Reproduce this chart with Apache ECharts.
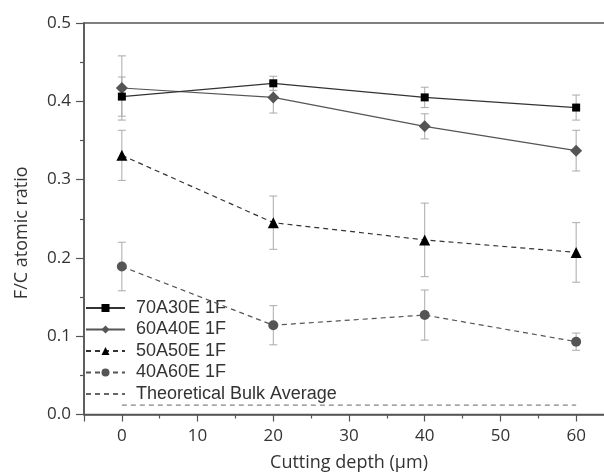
<!DOCTYPE html>
<html>
<head>
<meta charset="utf-8">
<script src="https://cdn.jsdelivr.net/npm/echarts@6/dist/echarts.min.js"></script>
<style>
  html, body { margin: 0; padding: 0; background: #fff; }
  #chart { width: 604px; height: 472px; }
</style>
</head>
<body>
<div id="chart"></div>
<script>
// cutting depth (um)
var depths = [0, 20, 40, 60]
// F/C ratios and error (+/-) for each composition
var s70 = [0.406, 0.423, 0.405, 0.392]
var e70 = [0.025, 0.009, 0.013, 0.016]
var s60 = [0.417, 0.405, 0.368, 0.337]
var e60 = [0.041, 0.020, 0.016, 0.026]
var s50 = [0.331, 0.245, 0.223, 0.207]
var e50 = [0.032, 0.034, 0.047, 0.038]
var s40 = [0.189, 0.114, 0.127, 0.093]
var e40 = [0.031, 0.025, 0.032, 0.011]
var bulkAvg = [0.012, 0.012]
var bulkX = [0, 60]
var names = ['70A30E 1F', '60A40E 1F', '50A50E 1F', '40A60E 1F', 'Theoretical Bulk Average']

var font = 'Open Sans'
var legendFont = 'Liberation Sans'

function pairs(xs, ys) {
  return xs.map(function (x, i) { return [x, ys[i]] })
}

// error bar rows: [x, low, high]
function errRows(vals, errs) {
  return depths.map(function (d, i) { return [d, vals[i] - errs[i], vals[i] + errs[i]] })
}

function errSeries(vals, errs) {
  return {
    type: 'custom',
    silent: true,
    z: 1,
    data: errRows(vals, errs),
    renderItem: function (params, api) {
      var lo = api.coord([api.value(0), api.value(1)])
      var hi = api.coord([api.value(0), api.value(2)])
      var w = 4
      var st = { stroke: '#aaaaaa', lineWidth: 1 }
      return {
        type: 'group',
        children: [
          { type: 'line', shape: { x1: lo[0], y1: lo[1], x2: hi[0], y2: hi[1] }, style: st },
          { type: 'line', shape: { x1: lo[0] - w, y1: lo[1], x2: lo[0] + w, y2: lo[1] }, style: st },
          { type: 'line', shape: { x1: hi[0] - w, y1: hi[1], x2: hi[0] + w, y2: hi[1] }, style: st }
        ]
      }
    }
  }
}

var myChart = echarts.init(document.getElementById('chart'))
myChart.setOption({
  animation: false,
  textStyle: { fontFamily: font },
  grid: {
    left: 84, top: 23, height: 391.5, width: 530,
    outerBoundsMode: 'none',
    show: true, borderColor: '#555', borderWidth: 1.5
  },
  legend: {
    orient: 'vertical',
    left: 85, top: 299, padding: 0,
    itemWidth: 39, itemHeight: 10, itemGap: 3.5,
    textStyle: { fontFamily: legendFont, fontSize: 18, color: '#333', padding: [0, 0, 0, 6] },
    data: [names[0], names[1], names[2], names[3], { name: names[4], itemStyle: { opacity: 0 } }]
  },
  xAxis: {
    type: 'value',
    min: -5, max: 65,
    splitNumber: 7,
    name: 'Cutting depth (\u03bcm)',
    nameLocation: 'middle',
    nameGap: 39,
    nameTextStyle: { fontSize: 18, color: '#333', fontFamily: font },
    axisLine: { onZero: false, lineStyle: { color: '#555', width: 1.5 } },
    axisTick: { inside: false, length: 7, lineStyle: { color: '#555', width: 1.2 } },
    minorTick: { show: true, splitNumber: 2, length: 4, lineStyle: { color: '#555', width: 1.2 } },
    axisLabel: { showMinLabel: false, showMaxLabel: false, margin: 13, fontSize: 17, color: '#333', fontFamily: font },
    splitLine: { show: false }
  },
  yAxis: {
    type: 'value',
    min: 0, max: 0.5, interval: 0.1,
    name: 'F/C atomic ratio',
    nameLocation: 'middle',
    nameGap: 53,
    nameTextStyle: { fontSize: 18, color: '#333', fontFamily: font, padding: [0, 28, 0, 0] },
    axisLine: { show: true, onZero: false, lineStyle: { color: '#555', width: 1.5 } },
    axisTick: { show: true, length: 8, lineStyle: { color: '#555', width: 1.2 } },
    minorTick: { show: true, splitNumber: 2, length: 4, lineStyle: { color: '#555', width: 1.2 } },
    axisLabel: {
      margin: 13, fontSize: 17, color: '#333', fontFamily: font,
      formatter: function (v) { return v.toFixed(1) }
    },
    splitLine: { show: false }
  },
  series: [
    errSeries(s70, e70),
    errSeries(s60, e60),
    errSeries(s50, e50),
    errSeries(s40, e40),
    {
      name: names[0], type: 'line', z: 5,
      data: pairs(depths, s70),
      symbol: 'rect', symbolSize: 8,
      itemStyle: { color: '#000' },
      lineStyle: { color: '#333', width: 1.2, type: 'solid' }
    },
    {
      name: names[1], type: 'line', z: 4,
      data: pairs(depths, s60),
      symbol: 'diamond', symbolSize: 12,
      itemStyle: { color: '#555' },
      lineStyle: { color: '#555', width: 1.2, type: 'solid' }
    },
    {
      name: names[2], type: 'line', z: 4,
      data: pairs(depths, s50),
      symbol: 'triangle', symbolSize: 11,
      itemStyle: { color: '#000' },
      lineStyle: { color: '#333', width: 1.2, type: [5, 4] }
    },
    {
      name: names[3], type: 'line', z: 4,
      data: pairs(depths, s40),
      symbol: 'circle', symbolSize: 10,
      itemStyle: { color: '#555' },
      lineStyle: { color: '#555', width: 1.2, type: [5, 4] }
    },
    {
      name: names[4], type: 'line', z: 3,
      data: pairs(bulkX, bulkAvg),
      symbol: 'none',
      itemStyle: { color: '#666' },
      lineStyle: { color: '#666', width: 1, type: [5, 4] }
    }
  ]
})
</script>
</body>
</html>
